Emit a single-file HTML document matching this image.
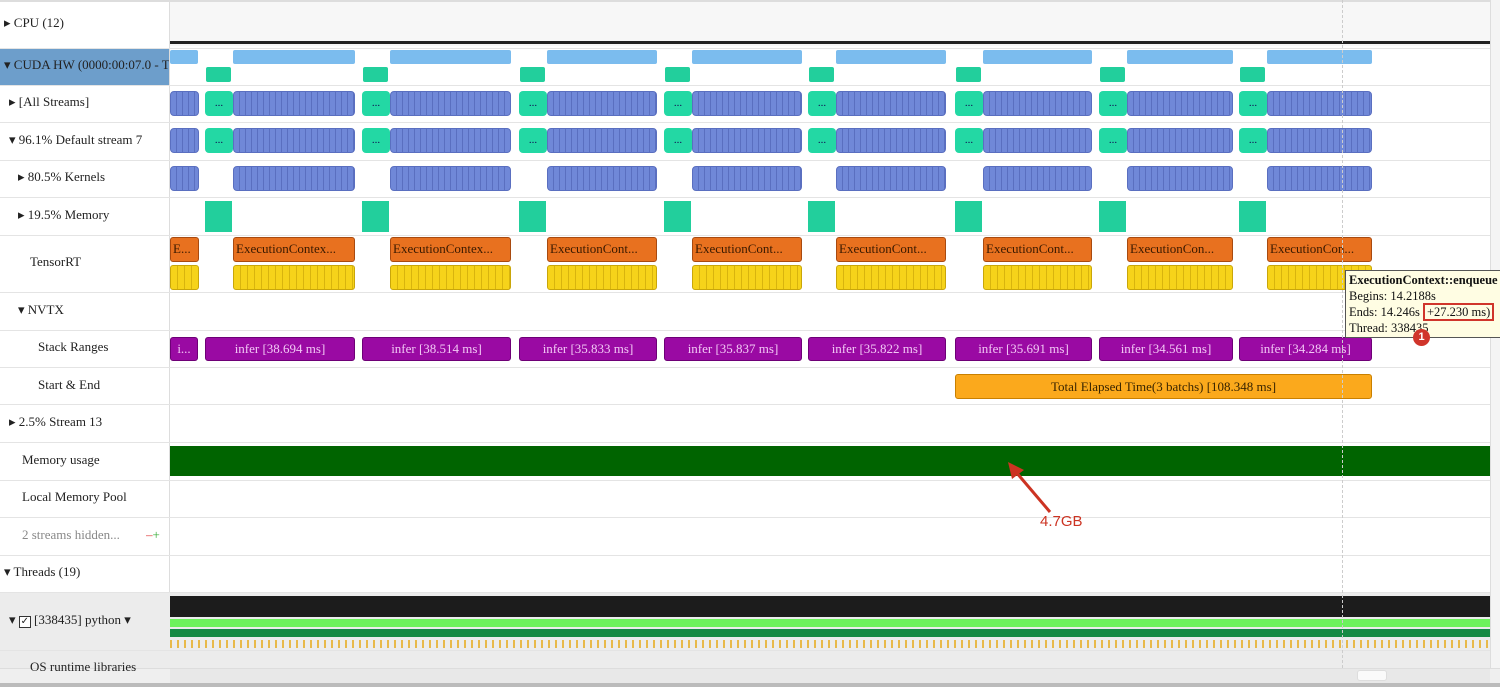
<!DOCTYPE html>
<html><head><meta charset="utf-8">
<style>
body{margin:0;width:1500px;height:687px;overflow:hidden;background:#fff;font-family:"Liberation Serif",serif;position:relative}
.a{position:absolute;box-sizing:border-box}
.lab{position:absolute;left:0;width:169px;font-size:13px;color:#222;white-space:nowrap;overflow:hidden}
.hl{position:absolute;left:0;width:1490px;height:1px;background:#e4e4e4}
.k{position:absolute;box-sizing:border-box;border-radius:4px;background:#7088d8 repeating-linear-gradient(90deg,#7088d8 0 5px,#5a6fc0 5px 6px);border:1px solid #5a6fc0}
.t{position:absolute;box-sizing:border-box;border-radius:4px;background:#23d8a4;color:#115;font-size:11px;text-align:center}
.m{position:absolute;box-sizing:border-box;background:#22cf9c}
.o{position:absolute;box-sizing:border-box;border-radius:3px;background:#e8711f;border:1px solid #a84a10;font-size:13px;color:#3a1a00;padding-left:2px;white-space:nowrap;overflow:hidden;line-height:22px}
.y{position:absolute;box-sizing:border-box;border-radius:3px;background:#f6d31a repeating-linear-gradient(90deg,#f6d31a 0 6px,#d8b40e 6px 7px);border:1px solid #c9a60a}
.p{position:absolute;box-sizing:border-box;border-radius:3px;background:#9a0aa3;border:1px solid #6e0076;color:#f2c8f5;font-size:13px;text-align:center;line-height:22px;white-space:nowrap;overflow:hidden}
.lb{position:absolute;box-sizing:border-box;background:#7bbcee;border-radius:2px}
</style></head><body>
<div class="a" style="left:169px;top:0;width:1px;height:668px;background:#ddd"></div>
<div class="a" style="left:0;top:0;width:1500px;height:2px;background:#ddd"></div>
<div class="a" style="left:1490px;top:0;width:10px;height:687px;background:#f4f4f4;border-left:1px solid #ddd"></div>
<div class="a" style="left:170px;top:2px;width:1320px;height:44px;background:#f7f7f7"></div>
<div class="a" style="left:170px;top:41px;width:1320px;height:3px;background:#222"></div>
<div class="a" style="left:0;top:48px;width:169px;height:37px;background:#6d9ecb"></div>
<div class="a" style="left:0;top:592px;width:1490px;height:76px;background:#ececec"></div>
<div class="a" style="left:0;top:668px;width:1500px;height:19px;background:#efefef;border-top:1px solid #ddd"></div>
<div class="a" style="left:170px;top:669px;width:1320px;height:14px;background:#e8e8e8"></div>
<div class="a" style="left:1357px;top:670px;width:30px;height:11px;background:#fafafa;border:1px solid #ddd;border-radius:3px"></div>
<div class="a" style="left:0;top:683px;width:1500px;height:4px;background:#bbb"></div>
<div id="c"></div>
<script>
var h='';
[48,85,122,160,197,235,292,330,367,404,442,480,517,555,592,650].forEach(function(y){h+='<div class="hl" style="top:'+y+'px"></div>';});
var L=[["▸ CPU (12)",4,24],["▾ CUDA HW (0000:00:07.0 - Tesla",4,66],["▸ [All Streams]",9,103],["▾ 96.1% Default stream 7",9,141],["▸ 80.5% Kernels",18,178],["▸ 19.5% Memory",18,216],["TensorRT",30,263],["▾ NVTX",18,311],["Stack Ranges",38,348],["Start &amp; End",38,386],["▸ 2.5% Stream 13",9,423],["Memory usage",22,461],["Local Memory Pool",22,498],["<span style='color:#888'>2 streams hidden...</span>",22,536],["▾ Threads (19)",4,573],["▾ <span style='display:inline-block;width:10px;height:10px;border:1px solid #333;font-size:10px;line-height:10px;text-align:center;background:#fff'>✓</span> [338435] python ▾",9,621],["OS runtime libraries",30,668]];
L.forEach(function(l){h+='<div class="lab" style="left:'+l[1]+'px;top:'+(l[2]-9)+'px;width:'+(169-l[1])+'px">'+l[0]+'</div>';});
h+='<div class="lab" style="left:146px;top:527px;color:#d33;width:20px">–<span style="color:#3a3">+</span></div>';
var G=[[205,233,355,"38.694","ExecutionContex..."],[362,390,511,"38.514","ExecutionContex..."],[519,547,657,"35.833","ExecutionCont..."],[664,692,802,"35.837","ExecutionCont..."],[808,836,946,"35.822","ExecutionCont..."],[955,983,1092,"35.691","ExecutionCont..."],[1099,1127,1233,"34.561","ExecutionCon..."],[1239,1267,1372,"34.284","ExecutionCon..."]];
function k(x,w,y,hh){return '<div class="k" style="left:'+x+'px;top:'+y+'px;width:'+w+'px;height:'+hh+'px"></div>';}
h+=k(170,29,91,25)+k(170,29,128,25)+k(170,29,166,25);
h+='<div class="lb" style="left:170px;top:50px;width:28px;height:14px"></div>';
h+='<div class="o" style="left:170px;top:237px;width:29px;height:25px">E...</div>';
h+='<div class="y" style="left:170px;top:265px;width:29px;height:25px"></div>';
h+='<div class="p" style="left:170px;top:337px;width:28px;height:24px">i...</div>';
G.forEach(function(g){var t=g[0],b=g[1],e=g[2],w=e-b;
h+='<div class="lb" style="left:'+b+'px;top:50px;width:'+w+'px;height:14px"></div>';
h+='<div class="m" style="left:'+(t+1)+'px;top:67px;width:'+(b-t-3)+'px;height:15px;border-radius:2px"></div>';
h+='<div class="t" style="left:'+t+'px;top:91px;width:'+(b-t)+'px;height:25px;line-height:25px">...</div>'+k(b,w,91,25);
h+='<div class="t" style="left:'+t+'px;top:128px;width:'+(b-t)+'px;height:25px;line-height:25px">...</div>'+k(b,w,128,25);
h+=k(b,w,166,25);
h+='<div class="m" style="left:'+t+'px;top:201px;width:'+(b-t-1)+'px;height:31px"></div>';
h+='<div class="o" style="left:'+b+'px;top:237px;width:'+w+'px;height:25px">'+g[4]+'</div>';
h+='<div class="y" style="left:'+b+'px;top:265px;width:'+w+'px;height:25px"></div>';
h+='<div class="p" style="left:'+t+'px;top:337px;width:'+(e-t)+'px;height:24px">infer ['+g[3]+' ms]</div>';
});
h+='<div class="a" style="left:955px;top:374px;width:417px;height:25px;background:#fba91c;border:1px solid #c98000;border-radius:3px;font-size:13px;text-align:center;line-height:23px;color:#3a2500">Total Elapsed Time(3 batchs) [108.348 ms]</div>';
h+='<div class="a" style="left:170px;top:446px;width:1320px;height:30px;background:#006400"></div>';
h+='<div class="a" style="left:170px;top:596px;width:1320px;height:21px;background:#1c1c1c"></div>';
h+='<div class="a" style="left:170px;top:619px;width:1320px;height:8px;background:#6cf25c"></div>';
h+='<div class="a" style="left:170px;top:629px;width:1320px;height:8px;background:#168a44"></div>';
h+='<div class="a" style="left:170px;top:640px;width:1320px;height:8px;background:repeating-linear-gradient(90deg,#e8b94a 0 2px,transparent 2px 7px)"></div>';
h+='<div class="a" style="left:1342px;top:0;width:0;height:668px;border-left:1px dashed #ccc"></div>';
h+='<div class="a" style="left:1345px;top:270px;width:160px;height:68px;background:#fffde3;border:1px solid #555;font-size:12.5px;line-height:16px;padding:1px 3px;color:#111;white-space:nowrap"><b>ExecutionContext::enqueue</b><br>Begins: 14.2188s<br>Ends: 14.246s <span style="border:2px solid #d0352b;padding:0 2px">+27.230 ms)</span><br>Thread: 338435</div>';
h+='<div class="a" style="left:1413px;top:329px;width:17px;height:17px;border-radius:50%;background:#d0352b;color:#fff;font:bold 11px/17px \'Liberation Sans\',sans-serif;text-align:center">1</div>';
h+='<svg class="a" style="left:0;top:0" width="1500" height="687"><line x1="1050" y1="512" x2="1016" y2="472" stroke="#cc3322" stroke-width="3"/><polygon points="1008,462 1024,470 1012,479" fill="#cc3322"/></svg>';
h+='<div class="a" style="left:1040px;top:513px;font:15px \'Liberation Sans\',sans-serif;color:#cc3322">4.7GB</div>';
document.getElementById('c').innerHTML=h;
</script>
</body></html>
